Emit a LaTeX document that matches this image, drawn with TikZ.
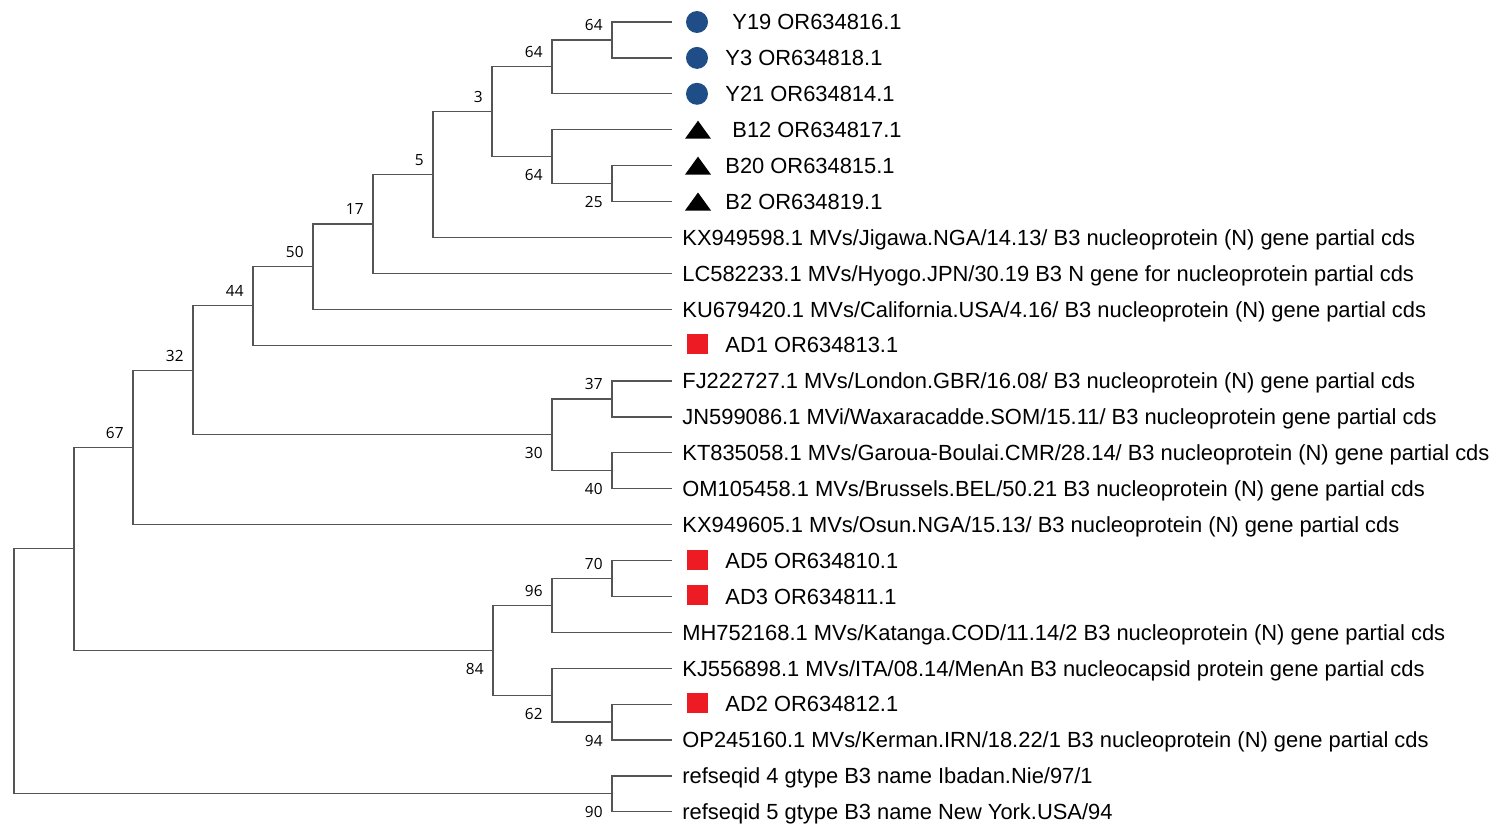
\documentclass[tikz,border=0pt]{standalone}
\usepackage{fontspec}
\setmainfont{Liberation Sans}
\newfontfamily\bsfont{Open Sans}
\definecolor{ptblue}{RGB}{31,77,135}
\definecolor{ptred}{RGB}{237,28,36}
\definecolor{branchc}{RGB}{85,85,85}
\begin{document}
\begin{tikzpicture}[x=0.5pt,y=-0.5pt,
  branch/.style={draw=branchc,line width=0.6pt},
  leaflab/.style={anchor=base west,inner sep=0pt,font=\fontsize{10.95}{13}\selectfont},
  bs/.style={anchor=base east,inner sep=0pt,font=\bsfont\fontsize{7.7}{9}\selectfont},
  bluedot/.style={circle,fill=ptblue,inner sep=0pt,minimum size=11pt},
  redsq/.style={rectangle,fill=ptred,inner sep=0pt,minimum width=10.5pt,minimum height=10pt}]
\useasboundingbox (0,0) rectangle (1500,835);
% leaf tips
\coordinate (L0) at (672,22);
\coordinate (L1) at (672,57.9);
\coordinate (L2) at (672,93.8);
\coordinate (L3) at (672,129.7);
\coordinate (L4) at (672,165.6);
\coordinate (L5) at (672,201.5);
\coordinate (L6) at (672,237.4);
\coordinate (L7) at (672,273.3);
\coordinate (L8) at (672,309.2);
\coordinate (L9) at (672,345.1);
\coordinate (L10) at (672,381);
\coordinate (L11) at (672,416.9);
\coordinate (L12) at (672,452.8);
\coordinate (L13) at (672,488.7);
\coordinate (L14) at (672,524.6);
\coordinate (L15) at (672,560.5);
\coordinate (L16) at (672,596.4);
\coordinate (L17) at (672,632.3);
\coordinate (L18) at (672,668.2);
\coordinate (L19) at (672,704.1);
\coordinate (L20) at (672,740);
\coordinate (L21) at (672,775.9);
\coordinate (L22) at (672,811.8);
% internal nodes
\coordinate (n1) at (612,39.95);
\coordinate (n2) at (552,66.875);
\coordinate (n3) at (612,183.55);
\coordinate (n4) at (552,156.625);
\coordinate (n5) at (492,111.75);
\coordinate (n6) at (433,174.575);
\coordinate (n7) at (373,223.94);
\coordinate (n8) at (313,266.57);
\coordinate (n9) at (253,305.83);
\coordinate (n10) at (612,398.95);
\coordinate (n11) at (612,470.75);
\coordinate (n12) at (552,434.85);
\coordinate (n13) at (193,370.34);
\coordinate (n14) at (133,447.47);
\coordinate (n15) at (612,578.45);
\coordinate (n16) at (552,605.375);
\coordinate (n17) at (612,722.05);
\coordinate (n18) at (552,695.125);
\coordinate (n19) at (493,650.25);
\coordinate (n20) at (74,548.86);
\coordinate (n21) at (612,793.85);
\coordinate (root) at (14,671.36);
% branches
\draw[branch] (L0) -| (n1) |- (L1);
\draw[branch] (n1) -| (n2) |- (L2);
\draw[branch] (L4) -| (n3) |- (L5);
\draw[branch] (L3) -| (n4) |- (n3);
\draw[branch] (n2) -| (n5) |- (n4);
\draw[branch] (n5) -| (n6) |- (L6);
\draw[branch] (n6) -| (n7) |- (L7);
\draw[branch] (n7) -| (n8) |- (L8);
\draw[branch] (n8) -| (n9) |- (L9);
\draw[branch] (L10) -| (n10) |- (L11);
\draw[branch] (L12) -| (n11) |- (L13);
\draw[branch] (n10) -| (n12) |- (n11);
\draw[branch] (n9) -| (n13) |- (n12);
\draw[branch] (n13) -| (n14) |- (L14);
\draw[branch] (L15) -| (n15) |- (L16);
\draw[branch] (n15) -| (n16) |- (L17);
\draw[branch] (L19) -| (n17) |- (L20);
\draw[branch] (L18) -| (n18) |- (n17);
\draw[branch] (n16) -| (n19) |- (n18);
\draw[branch] (n14) -| (n20) |- (n19);
\draw[branch] (L21) -| (n21) |- (L22);
\draw[branch] (n20) -| (root) |- (n21);
% bootstrap values
\node[bs] (b1) at ([shift={(-9,-9)}]n1) {64};
\node[bs] (b2) at ([shift={(-9,-9)}]n2) {64};
\node[bs] (b3) at ([shift={(-9,24)}]n3) {25};
\node[bs] (b4) at ([shift={(-9,24)}]n4) {64};
\node[bs] (b5) at ([shift={(-9,-9)}]n5) {3};
\node[bs] (b6) at ([shift={(-9,-9)}]n6) {5};
\node[bs] (b7) at ([shift={(-9,-9)}]n7) {17};
\node[bs] (b8) at ([shift={(-9,-9)}]n8) {50};
\node[bs] (b9) at ([shift={(-9,-9)}]n9) {44};
\node[bs] (b10) at ([shift={(-9,-9)}]n10) {37};
\node[bs] (b11) at ([shift={(-9,24)}]n11) {40};
\node[bs] (b12) at ([shift={(-9,24)}]n12) {30};
\node[bs] (b13) at ([shift={(-9,-9)}]n13) {32};
\node[bs] (b14) at ([shift={(-9,-9)}]n14) {67};
\node[bs] (b15) at ([shift={(-9,-9)}]n15) {70};
\node[bs] (b16) at ([shift={(-9,-9)}]n16) {96};
\node[bs] (b17) at ([shift={(-9,24)}]n17) {94};
\node[bs] (b18) at ([shift={(-9,24)}]n18) {62};
\node[bs] (b19) at ([shift={(-9,24)}]n19) {84};
\node[bs] (b21) at ([shift={(-9,24)}]n21) {90};
% markers
\node[bluedot] (m0) at (697,22) {};
\node[bluedot] (m1) at (697,57.9) {};
\node[bluedot] (m2) at (697,93.8) {};
\fill (685,138.7) -- (711,138.7) -- (698,120.7) -- cycle;
\fill (685,174.6) -- (711,174.6) -- (698,156.6) -- cycle;
\fill (685,210.5) -- (711,210.5) -- (698,192.5) -- cycle;
\node[redsq] (m9) at (697.5,344.1) {};
\node[redsq] (m15) at (697.5,559.5) {};
\node[redsq] (m16) at (697.5,595.4) {};
\node[redsq] (m19) at (697.5,703.1) {};
% leaf labels
\node[leaflab] (t0) at (732,29.8) {Y19 OR634816.1};
\node[leaflab] (t1) at (725,65.7) {Y3 OR634818.1};
\node[leaflab] (t2) at (725,101.6) {Y21 OR634814.1};
\node[leaflab] (t3) at (732,137.5) {B12 OR634817.1};
\node[leaflab] (t4) at (725,173.4) {B20 OR634815.1};
\node[leaflab] (t5) at (725,209.3) {B2 OR634819.1};
\node[leaflab] (t6) at (682,245.2) {KX949598.1 MVs/Jigawa.NGA/14.13/ B3 nucleoprotein (N) gene partial cds};
\node[leaflab] (t7) at (682,281.1) {LC582233.1 MVs/Hyogo.JPN/30.19 B3 N gene for nucleoprotein partial cds};
\node[leaflab] (t8) at (682,317) {KU679420.1 MVs/California.USA/4.16/ B3 nucleoprotein (N) gene partial cds};
\node[leaflab] (t9) at (725,352.9) {AD1 OR634813.1};
\node[leaflab] (t10) at (682,388.8) {FJ222727.1 MVs/London.GBR/16.08/ B3 nucleoprotein (N) gene partial cds};
\node[leaflab] (t11) at (682,424.7) {JN599086.1 MVi/Waxaracadde.SOM/15.11/ B3 nucleoprotein gene partial cds};
\node[leaflab] (t12) at (682,460.6) {KT835058.1 MVs/Garoua-Boulai.CMR/28.14/ B3 nucleoprotein (N) gene partial cds};
\node[leaflab] (t13) at (682,496.5) {OM105458.1 MVs/Brussels.BEL/50.21 B3 nucleoprotein (N) gene partial cds};
\node[leaflab] (t14) at (682,532.4) {KX949605.1 MVs/Osun.NGA/15.13/ B3 nucleoprotein (N) gene partial cds};
\node[leaflab] (t15) at (725,568.3) {AD5 OR634810.1};
\node[leaflab] (t16) at (725,604.2) {AD3 OR634811.1};
\node[leaflab] (t17) at (682,640.1) {MH752168.1 MVs/Katanga.COD/11.14/2 B3 nucleoprotein (N) gene partial cds};
\node[leaflab] (t18) at (682,676) {KJ556898.1 MVs/ITA/08.14/MenAn B3 nucleocapsid protein gene partial cds};
\node[leaflab] (t19) at (725,711.9) {AD2 OR634812.1};
\node[leaflab] (t20) at (682,747.8) {OP245160.1 MVs/Kerman.IRN/18.22/1 B3 nucleoprotein (N) gene partial cds};
\node[leaflab] (t21) at (682,783.7) {refseqid 4 gtype B3 name Ibadan.Nie/97/1};
\node[leaflab] (t22) at (682,819.6) {refseqid 5 gtype B3 name New York.USA/94};
\end{tikzpicture}
\end{document}
